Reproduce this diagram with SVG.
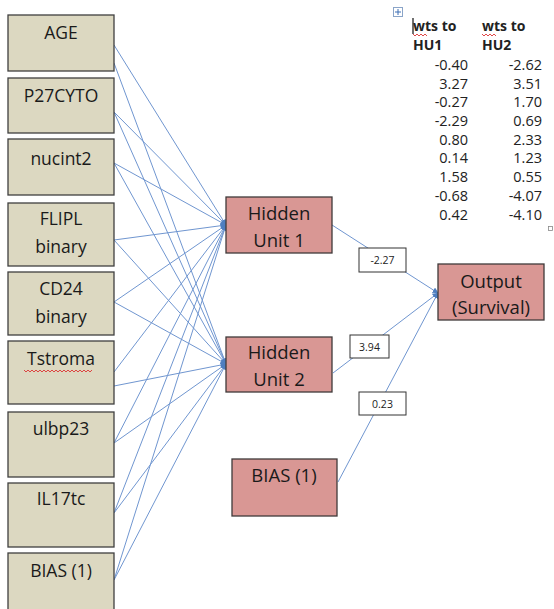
<svg xmlns="http://www.w3.org/2000/svg" width="554" height="609" viewBox="0 0 554 609">
<style>
.in rect{fill:#dcd8c1;stroke:#3f3f3f;stroke-width:1.3}
.hid rect{fill:#d99794;stroke:#3f3a3a;stroke-width:1.3}
.lbl{font-family:"Open Sans","Liberation Sans",sans-serif;font-size:17.5px;fill:#1a1a1a;text-anchor:middle}
.big{font-size:18.5px}
.w rect{fill:#fff;stroke:#333;stroke-width:1}
.w text{font-family:"Open Sans","Liberation Sans",sans-serif;font-size:10.5px;fill:#222;text-anchor:middle}
.tb{font-family:"Open Sans","Liberation Sans",sans-serif;font-size:14.5px;fill:#222}
.th{font-family:"Open Sans","Liberation Sans",sans-serif;font-size:14px;font-weight:bold;fill:#222}
.num{text-anchor:end}
#connectors line{stroke:#7096d0;stroke-width:1;fill:none;marker-end:url(#ah)}
.sq{fill:none;stroke:#d33;stroke-width:0.9}
</style>
<defs>
<marker id="ah" viewBox="0 0 10 10" refX="9" refY="5" markerWidth="6" markerHeight="6" markerUnits="userSpaceOnUse" orient="auto">
<path d="M0,0 L10,5 L0,10 z" fill="#4f7fc0"/>
</marker>
</defs>
<rect width="554" height="609" fill="#fff"/>

<g id="connectors">
<line x1="114" y1="45" x2="226" y2="225"/>
<line x1="114" y1="63" x2="226" y2="364"/>
<line x1="114" y1="112" x2="226" y2="225"/>
<line x1="114" y1="112" x2="226" y2="364"/>
<line x1="114" y1="163" x2="226" y2="225"/>
<line x1="114" y1="163" x2="226" y2="364"/>
<line x1="114" y1="240" x2="226" y2="225"/>
<line x1="114" y1="240" x2="226" y2="364"/>
<line x1="114" y1="302" x2="226" y2="225"/>
<line x1="114" y1="302" x2="226" y2="364"/>
<line x1="114" y1="372" x2="226" y2="225"/>
<line x1="114" y1="386" x2="226" y2="364"/>
<line x1="114" y1="443" x2="226" y2="225"/>
<line x1="114" y1="443" x2="226" y2="364"/>
<line x1="114" y1="513" x2="226" y2="225"/>
<line x1="114" y1="513" x2="226" y2="364"/>
<line x1="114" y1="580" x2="226" y2="225"/>
<line x1="114" y1="580" x2="226" y2="364"/>
<line x1="332" y1="225" x2="438" y2="293"/>
<line x1="333" y1="373" x2="438" y2="293"/>
<line x1="338" y1="482" x2="438" y2="293"/>
</g>

<g id="in-age" class="in"><rect x="8" y="15" width="106" height="56"/><text class="lbl" x="61" y="39">AGE</text></g>
<g id="in-p27cyto" class="in"><rect x="8" y="78" width="106" height="55"/><text class="lbl" x="61" y="102">P27CYTO</text></g>
<g id="in-nucint2" class="in"><rect x="8" y="139" width="106" height="56"/><text class="lbl" x="61" y="165">nucint2</text></g>
<g id="in-flipl" class="in"><rect x="8" y="203" width="106" height="63"/><text class="lbl" x="61" y="225">FLIPL</text><text class="lbl" x="61" y="253">binary</text></g>
<g id="in-cd24" class="in"><rect x="8" y="272" width="106" height="63"/><text class="lbl" x="61" y="295">CD24</text><text class="lbl" x="61" y="323">binary</text></g>
<g id="in-tstroma" class="in"><rect x="8" y="341" width="106" height="63"/><text class="lbl" x="61" y="365">Tstroma</text><path class="sq" d="M24,370 l2,2 l2,-2 l2,2 l2,-2 l2,2 l2,-2 l2,2 l2,-2 l2,2 l2,-2 l2,2 l2,-2 l2,2 l2,-2 l2,2 l2,-2 l2,2 l2,-2 l2,2 l2,-2 l2,2 l2,-2 l2,2 l2,-2 l2,2 l2,-2 l2,2 l2,-2 l2,2 l2,-2 l2,2 l2,-2 l2,2 l2,-2"/></g>
<g id="in-ulbp23" class="in"><rect x="8" y="412" width="106" height="65"/><text class="lbl" x="61" y="435">ulbp23</text></g>
<g id="in-il17tc" class="in"><rect x="8" y="483" width="106" height="64"/><text class="lbl" x="61" y="505">IL17tc</text></g>
<g id="in-bias" class="in"><rect x="8" y="553" width="106" height="64"/><text class="lbl" x="61" y="577">BIAS (1)</text></g>

<g id="hu1" class="hid"><rect x="226" y="197" width="106" height="56"/><text class="lbl big" x="279" y="220">Hidden</text><text class="lbl big" x="279" y="247">Unit 1</text></g>
<g id="hu2" class="hid"><rect x="226" y="337" width="106" height="55"/><text class="lbl big" x="279" y="359">Hidden</text><text class="lbl big" x="279" y="386">Unit 2</text></g>
<g id="bias-h" class="hid"><rect x="232" y="459" width="105" height="57"/><text class="lbl big" x="284" y="482">BIAS (1)</text></g>
<g id="output" class="hid"><rect x="438" y="264" width="106" height="56"/><text class="lbl big" x="491" y="288">Output</text><text class="lbl big" x="491" y="314">(Survival)</text></g>

<g id="w1" class="w"><rect x="359" y="248" width="47" height="24"/><text x="382.5" y="264">-2.27</text></g>
<g id="w2" class="w"><rect x="350" y="335" width="39" height="23"/><text x="369.5" y="351">3.94</text></g>
<g id="w3" class="w"><rect x="359" y="392" width="47" height="23"/><text x="382.5" y="408">0.23</text></g>

<g id="table">
<rect x="393.5" y="7.5" width="9" height="9" fill="#fff" stroke="#8aa4c8" stroke-width="1"/>
<path d="M398,9 v6 M395,12 h6" stroke="#3d6fb5" stroke-width="1"/>
<line x1="413" y1="18" x2="413" y2="34" stroke="#222" stroke-width="1.3"/>
<text class="th" x="413" y="31">wts to</text>
<text class="th" x="482" y="31">wts to</text>
<text class="th" x="413" y="50">HU1</text>
<text class="th" x="482" y="50">HU2</text>
<path class="sq" d="M413,34 l2,2 l2,-2 l2,2 l2,-2 l2,2 l2,-2 l2,2"/>
<path class="sq" d="M482,34 l2,2 l2,-2 l2,2 l2,-2 l2,2 l2,-2 l2,2"/>
<g class="tb num">
<text x="468" y="70">-0.40</text><text x="542" y="70">-2.62</text>
<text x="468" y="89">3.27</text><text x="542" y="89">3.51</text>
<text x="468" y="107">-0.27</text><text x="542" y="107">1.70</text>
<text x="468" y="126">-2.29</text><text x="542" y="126">0.69</text>
<text x="468" y="145">0.80</text><text x="542" y="145">2.33</text>
<text x="468" y="163">0.14</text><text x="542" y="163">1.23</text>
<text x="468" y="182">1.58</text><text x="542" y="182">0.55</text>
<text x="468" y="201">-0.68</text><text x="542" y="201">-4.07</text>
<text x="468" y="220">0.42</text><text x="542" y="220">-4.10</text>
</g>
<rect x="548.5" y="226.5" width="4" height="4" fill="#fff" stroke="#888" stroke-width="0.8"/>
</g>
</svg>
